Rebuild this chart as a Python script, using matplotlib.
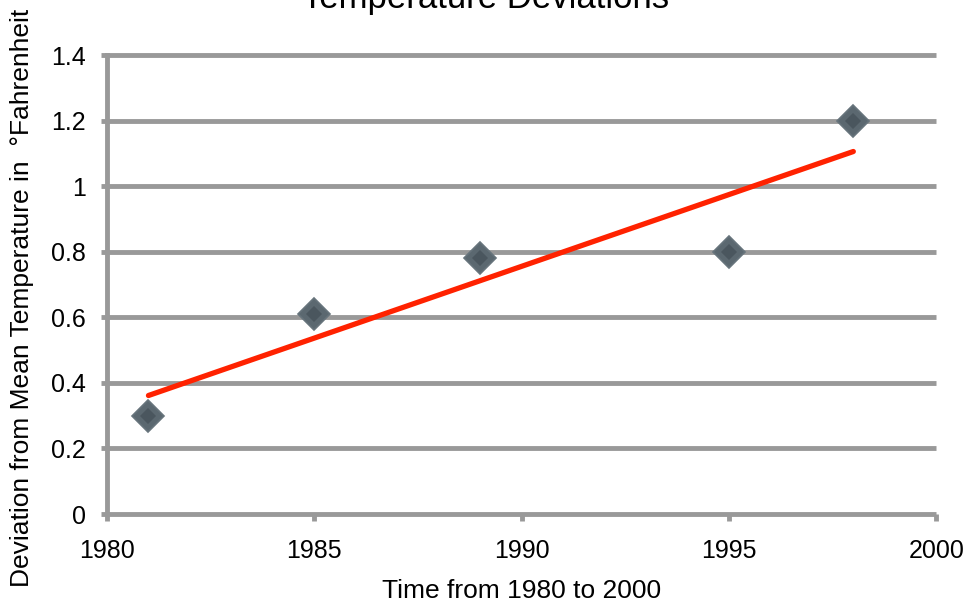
import numpy as np
import matplotlib
matplotlib.use("Agg")
import matplotlib.pyplot as plt

plt.rcParams["font.family"] = ["Liberation Sans", "DejaVu Sans"]

# ── data ─────────────────────────────────────────────────────────────────────
years = [1981, 1985, 1989, 1995, 1998]
deviation = [0.30, 0.61, 0.78, 0.80, 1.20]
x_ticks = [1980, 1985, 1990, 1995, 2000]
y_ticks = [0, 0.2, 0.4, 0.6, 0.8, 1.0, 1.2, 1.4]
y_tick_labels = ["0", "0.2", "0.4", "0.6", "0.8", "1", "1.2", "1.4"]

GRID = "#999999"

fig = plt.figure(figsize=(9.71, 6.05), dpi=100)
ax = fig.add_axes([0.1102, 0.1504, 0.854, 0.7586])

# gridlines (unclipped so the 0 and 1.4 lines keep their full width)
for yv in y_ticks:
    ax.axhline(yv, color=GRID, lw=3.5, zorder=1, solid_capstyle="butt",
               clip_on=False)

# linear trend line
slope, intercept = np.polyfit(years, deviation, 1)
xs = np.array([years[0], years[-1]])
ax.plot(xs, slope * xs + intercept, color="#ff2200", lw=3.8,
        solid_capstyle="round", zorder=3)

# diamond markers (outer lighter, inner darker for a bit of shading)
ax.plot(years, deviation, linestyle="none", marker="D", markersize=16,
        markerfacecolor="#5b6870", markeredgecolor="#67747c",
        markeredgewidth=1.2, zorder=4)
ax.plot(years, deviation, linestyle="none", marker="D", markersize=8,
        markerfacecolor="#4a565e", markeredgewidth=0, zorder=5)

ax.set_xlim(1980, 2000)
ax.set_ylim(0, 1.4)
ax.set_xticks(x_ticks)
ax.set_yticks(y_ticks)
ax.set_yticklabels(y_tick_labels)

for side in ["top", "right"]:
    ax.spines[side].set_visible(False)
ax.spines["left"].set_color(GRID)
ax.spines["left"].set_linewidth(3.5)
ax.spines["bottom"].set_visible(False)

ax.tick_params(axis="x", direction="out", length=5, width=3.5, color=GRID,
               labelsize=18, pad=13)
ax.tick_params(axis="y", direction="out", length=4, width=3.5, color=GRID,
               labelsize=18, pad=11)

ax.set_xlabel("Time from 1980 to 2000", fontsize=19)
ax.set_ylabel("Deviation from Mean Temperature in  \u00b0Fahrenheit",
              fontsize=19)
ax.xaxis.set_label_coords(0.5, -0.142)
ax.yaxis.set_label_coords(-0.088, 0.47)

fig.text(0.5, 0.987, "Temperature Deviations", ha="center", va="baseline",
         fontsize=25)

fig.savefig("out.png", dpi=100)
plt.close(fig)
